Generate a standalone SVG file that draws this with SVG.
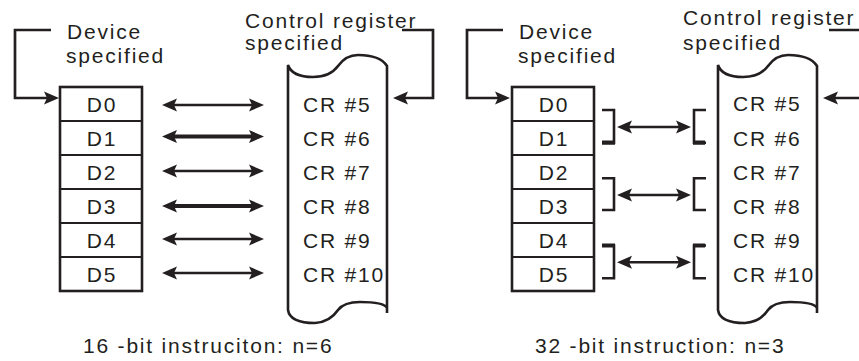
<svg xmlns="http://www.w3.org/2000/svg" width="859" height="361" viewBox="0 0 859 361">
<style>
.t{font-family:"Liberation Sans",Arial,sans-serif;font-size:21px;letter-spacing:1.8px;fill:#231f20}
.m{text-anchor:middle}
.ln{fill:none;stroke:#231f20;stroke-width:2.6}
.th{stroke-width:4.2}
.box{fill:#fff;stroke:#231f20;stroke-width:2.6}
.sep{stroke:#231f20;stroke-width:2}
.ar{fill:none;stroke:#231f20;stroke-width:2.4;marker-end:url(#ah)}
.dar{fill:none;stroke:#231f20;stroke-width:2.4;marker-start:url(#ah);marker-end:url(#ah)}
.thick{stroke-width:4.2}
</style>
<defs>
<marker id="ah" markerUnits="userSpaceOnUse" markerWidth="16" markerHeight="14" refX="3" refY="7" orient="auto-start-reverse">
<path d="M0,0.5 L15,7 L0,13.5 L3,7 Z" fill="#231f20"/>
</marker>
<path id="scroll" d="M0,313 L0,66 Q-7,55 -29,55 Q-41,55 -49,66 Q-57,77 -74,77 Q-95,77 -99,65 L-99,310 Q-97,323 -72,323 Q-57,322 -49,310 Q-43,302 -27,302 Q-3,302 0,308"/>
</defs>

<!-- Left panel: 16-bit -->
<g id="left-device-label">
<text class="t" x="67" y="39">Device</text>
<text class="t" x="66" y="63">specified</text>
</g>
<g id="left-device-table">
<rect class="box" x="60" y="87" width="82" height="204"/>
<line class="sep" x1="60" y1="121" x2="142" y2="121"/>
<line class="sep" x1="60" y1="155" x2="142" y2="155"/>
<line class="sep" x1="60" y1="189" x2="142" y2="189"/>
<line class="sep" x1="60" y1="223" x2="142" y2="223"/>
<line class="sep" x1="60" y1="257" x2="142" y2="257"/>
<text class="t m" x="102" y="111.5">D0</text>
<text class="t m" x="102" y="145.5">D1</text>
<text class="t m" x="102" y="179.5">D2</text>
<text class="t m" x="102" y="213.5">D3</text>
<text class="t m" x="102" y="247.5">D4</text>
<text class="t m" x="102" y="281.5">D5</text>
</g>
<g id="left-cr-label">
<text class="t" x="245" y="28">Control register</text>
<text class="t" x="245" y="50">specified</text>
</g>
<g id="left-cr-scroll">
<use href="#scroll" class="ln" transform="translate(387,0)"/>
<text class="t" x="303" y="111.5">CR #5</text>
<text class="t" x="303" y="145.5">CR #6</text>
<text class="t" x="303" y="179.5">CR #7</text>
<text class="t" x="303" y="214">CR #8</text>
<text class="t" x="303" y="247.5">CR #9</text>
<text class="t" x="303" y="281.5">CR #10</text>
</g>
<g id="left-caption">
<text class="t" x="83" y="353">16 -bit instruciton: n=6</text>
</g>

<!-- Right panel: 32-bit -->
<g id="right-device-label">
<text class="t" x="519" y="39">Device</text>
<text class="t" x="518" y="63">specified</text>
</g>
<g id="right-device-table">
<rect class="box" x="512" y="87" width="82" height="204"/>
<line class="sep" x1="512" y1="121" x2="594" y2="121"/>
<line class="sep" x1="512" y1="155" x2="594" y2="155"/>
<line class="sep" x1="512" y1="189" x2="594" y2="189"/>
<line class="sep" x1="512" y1="223" x2="594" y2="223"/>
<line class="sep" x1="512" y1="257" x2="594" y2="257"/>
<text class="t m" x="554" y="111.5">D0</text>
<text class="t m" x="554" y="145.5">D1</text>
<text class="t m" x="554" y="179.5">D2</text>
<text class="t m" x="554" y="213.5">D3</text>
<text class="t m" x="554" y="247.5">D4</text>
<text class="t m" x="554" y="281.5">D5</text>
</g>
<g id="right-cr-label">
<text class="t" x="683" y="25">Control register</text>
<text class="t" x="683" y="50">specified</text>
</g>
<g id="right-cr-scroll">
<use href="#scroll" class="ln" transform="translate(817,0)"/>
<text class="t" x="733" y="111">CR #5</text>
<text class="t" x="733" y="145.5">CR #6</text>
<text class="t" x="733" y="179.5">CR #7</text>
<text class="t" x="733" y="214">CR #8</text>
<text class="t" x="733" y="247.5">CR #9</text>
<text class="t" x="733" y="281.5">CR #10</text>
</g>
<g id="right-caption">
<text class="t" x="535" y="353">32 -bit instruction: n=3</text>
</g>

<g id="connectors">
<!-- left panel -->
<polyline class="ar" style="stroke-width:2.7" points="51,30 15,30 15,98 47,98"/>
<polyline class="ar" style="stroke-width:2.7" points="402,30 433,30 433,98 405,98"/>
<line class="dar" x1="174" y1="105" x2="252" y2="105"/>
<line class="dar thick" x1="174" y1="136.5" x2="252" y2="136.5"/>
<line class="dar" x1="174" y1="171" x2="252" y2="171"/>
<line class="dar thick" x1="174" y1="206" x2="252" y2="206"/>
<line class="dar" x1="174" y1="239" x2="252" y2="239"/>
<line class="dar" x1="174" y1="273" x2="252" y2="273"/>
<!-- right panel -->
<polyline class="ar" style="stroke-width:2.7" points="503,30 467,30 467,98 498,98"/>
<polyline class="ar" style="stroke-width:2.7" points="829,30 866,30 866,98 835,98"/>
<path class="ln" d="M602,110 H614 V142.7 H602"/>
<path class="ln" d="M706,110 H694 V142.7 H706"/>
<path class="ln th" d="M602,142.7 H615 M705,142.7 H693"/>
<line class="dar" x1="629" y1="127" x2="679" y2="127"/>
<path class="ln" d="M602,178.3 H614 V210 H602"/>
<path class="ln" d="M706,178.3 H694 V210 H706"/>
<line class="dar" x1="629" y1="195" x2="679" y2="195"/>
<path class="ln" d="M602,245.5 H614 V278.3 H602"/>
<path class="ln" d="M706,245.5 H694 V278.3 H706"/>
<path class="ln th" d="M602,245.5 H615 M705,245.5 H693"/>
<line class="dar" x1="629" y1="262.3" x2="679" y2="262.3"/>
</g>
</svg>
